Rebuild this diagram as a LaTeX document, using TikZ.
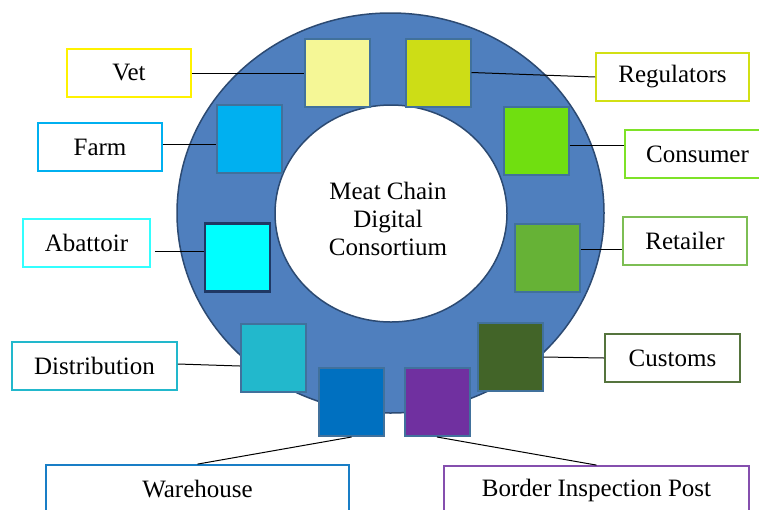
\documentclass[tikz,border=0pt]{standalone}
\usepackage{fontspec}
\setmainfont{Liberation Serif}
\usepackage{xcolor}
\definecolor{ring}{RGB}{79, 127, 190}
\definecolor{rim}{RGB}{44, 74, 114}
\definecolor{edge}{RGB}{65, 113, 156}
\definecolor{vety}{RGB}{245, 247, 150}
\definecolor{regy}{RGB}{205, 221, 22}
\definecolor{farmb}{RGB}{0, 176, 240}
\definecolor{consg}{RGB}{112, 223, 16}
\definecolor{abatc}{RGB}{0, 255, 255}
\definecolor{retg}{RGB}{102, 178, 54}
\definecolor{distc}{RGB}{34, 184, 204}
\definecolor{custg}{RGB}{66, 100, 40}
\definecolor{wareb}{RGB}{0, 112, 192}
\definecolor{bordp}{RGB}{112, 48, 160}

\begin{document}
\begin{tikzpicture}[x=1pt, y=-1pt, font=\fontsize{25}{28}\selectfont,
    tagbox/.style={draw=#1, line width=1.8pt, minimum height=48, inner sep=0},
    sq/.style={fill=#1, draw=edge, line width=2pt, minimum width=65, minimum height=68, inner sep=0},
    link/.style={line width=1pt}]
            \useasboundingbox (0, 0) rectangle (759, 509);
            % ring
            \draw[fill=ring, draw=rim, line width=1.5pt] (390.5, 213) ellipse [x radius=213.5, y radius=200];
            \draw[fill=white, draw=rim, line width=1.5pt] (391, 213.5) ellipse [x radius=116, y radius=108.5];
            \node[align=center](mcdc) at (388, 219) {Meat Chain\\Digital\\Consortium};
            % squares on the ring
            \node[sq=vety](vetsq) at (337, 73) {};
            \node[sq=regy](regsq) at (438, 72.5) {};
            \node[sq=farmb](farmsq) at (249, 138.5) {};
            \node[sq=consg](conssq) at (536, 141) {};
            \node[sq=abatc, draw={rgb,255:red,31;green,56;blue,100}, line width=2.5pt](abatsq) at (237.5, 257.5) {};
            \node[sq=retg](retsq) at (547, 257.5) {};
            \node[sq=distc](distsq) at (273.5, 358) {};
            \node[sq=custg](custsq) at (510, 357) {};
            \node[sq=wareb](waresq) at (351.5, 402) {};
            \node[sq=bordp](bordsq) at (437, 402) {};
            % labels
            \node[tagbox=yellow, minimum width=124](vet) at (129, 73) {Vet};
            \node[tagbox=farmb, minimum width=124](farm) at (100, 147) {Farm};
            \node[tagbox=abatc!80, minimum width=127](abattoir) at (86.5, 243) {Abattoir};
            \node[tagbox=distc, minimum width=165](distribution) at (94.5, 366) {Distribution};
            \node[tagbox=regy!90!yellow, minimum width=153](regulators) at (672.5, 77) {Regulators};
            \node[tagbox=consg!90!white, minimum width=145](consumer) at (697.5, 154) {Consumer};
            \node[tagbox=retg!85!white, minimum width=124](retailer) at (685, 241) {Retailer};
            \node[tagbox=custg!90!white, minimum width=135](customs) at (672.5, 358) {Customs};
            \node[tagbox=wareb!90!white, minimum width=303](warehouse) at (197.5, 489) {Warehouse};
            \node[tagbox=bordp!85!white, minimum width=305](border) at (596.5, 490) {Border Inspection Post};
            % connectors
            \draw[link] (vet.east) -- (vetsq.west);
            \draw[link] (regsq.east) -- (regulators.west);
            \draw[link] ([yshift=3pt]farm.east) -- ([yshift=-5.5pt]farmsq.west);
            \draw[link] ([yshift=-4pt]conssq.east) -- ([yshift=9pt]consumer.west);
            \draw[link] ([xshift=4pt, yshift=-8pt]abattoir.east) -- ([yshift=6.5pt]abatsq.west);
            \draw[link] ([yshift=8.5pt]retsq.east) -- ([yshift=-8pt]retailer.west);
            \draw[link] ([yshift=2pt]distribution.east) -- ([yshift=-8pt]distsq.west);
            \draw[link] (custsq.east) -- (customs.west);
            \draw[link] (waresq.south) -- (warehouse.north);
            \draw[link] (bordsq.south) -- (border.north);
        \end{tikzpicture}
\end{document}
